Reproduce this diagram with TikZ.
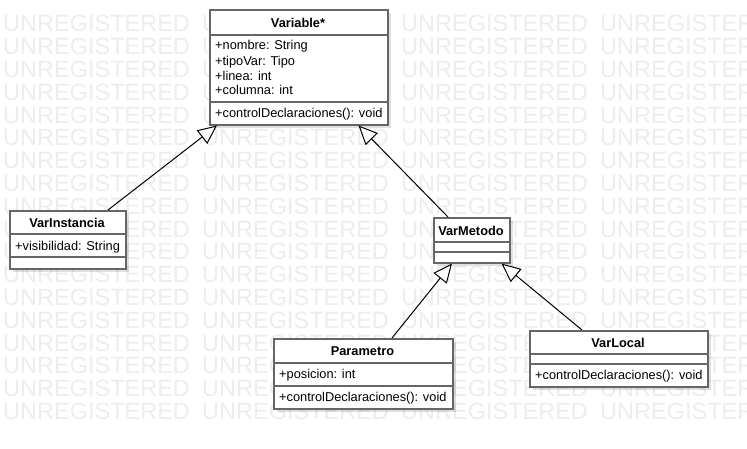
\documentclass[tikz,border=0pt]{standalone}
\usepackage{fontspec}
\setmainfont{Liberation Sans}
\usetikzlibrary{arrows.meta,shadows}
\definecolor{wmark}{RGB}{237,237,237}
\definecolor{frame}{RGB}{102,102,102}
\begin{document}
\begin{tikzpicture}[x=1pt,y=-1pt,
  classbox/.style={draw=frame, line width=1.5pt, fill=white, inner sep=0pt,
    anchor=north west,
    drop shadow={shadow xshift=3pt, shadow yshift=-3pt, opacity=0.12, fill=black}},
  sepline/.style={draw=frame, line width=1.5pt},
  ctitle/.style={anchor=base, inner sep=0pt, font=\fontsize{12.8}{15}\selectfont\bfseries},
  member/.style={anchor=base west, inner sep=0pt, font=\fontsize{12.8}{15}\selectfont},
  wmtext/.style={anchor=base west, inner sep=0pt, text=wmark, font=\fontsize{23.5}{26}\selectfont},
  inherit/.style={draw=black, line width=1pt,
    -{Triangle[fill=white, length=19pt, width=17pt]}}
]
\useasboundingbox (0,0) rectangle (747,448);
\fill[white] (0,0) rectangle (747,448);

% background watermark
\begin{scope}
  \clip (0,0) rectangle (747,448);
  \foreach \r in {0,...,17}
    \foreach \c in {0,...,3}
      \node[wmtext] (wm-\r-\c) at (3+199*\c, 31.8+22.8*\r) {UNREGISTERED};
\end{scope}

% class Variable
\node[classbox, minimum width=178pt, minimum height=115pt] (variable) at (209,9) {};
\draw[sepline] (209,35) -- (387,35);
\draw[sepline] (209,102) -- (387,102);
\node[ctitle] (variable-t) at (298,27.1) {Variable*};
\node[member] (variable-a1) at (215,49.6) {+nombre: String};
\node[member] (variable-a2) at (215,65.1) {+tipoVar: Tipo};
\node[member] (variable-a3) at (215,80.1) {+linea: int};
\node[member] (variable-a4) at (215,94.9) {+columna: int};
\node[member] (variable-m1) at (215,117.6) {+controlDeclaraciones(): void};

% class VarInstancia
\node[classbox, minimum width=116pt, minimum height=58pt] (vinst) at (9,210) {};
\draw[sepline] (9,234) -- (125,234);
\draw[sepline] (9,257) -- (125,257);
\node[ctitle] (vinst-t) at (67,227.6) {VarInstancia};
\node[member] (vinst-a1) at (15,250.1) {+visibilidad: String};

% class VarMetodo
\node[classbox, minimum width=76pt, minimum height=45pt] (vmet) at (433,217) {};
\draw[sepline] (433,242) -- (509,242);
\draw[sepline] (433,252) -- (509,252);
\node[ctitle] (vmet-t) at (471,235.1) {VarMetodo};

% class Parametro
\node[classbox, minimum width=179pt, minimum height=70pt] (param) at (273,338) {};
\draw[sepline] (273,363) -- (452,363);
\draw[sepline] (273,386) -- (452,386);
\node[ctitle] (param-t) at (362.5,355.6) {Parametro};
\node[member] (param-a1) at (279,378.6) {+posicion: int};
\node[member] (param-m1) at (279,401.6) {+controlDeclaraciones(): void};

% class VarLocal
\node[classbox, minimum width=178pt, minimum height=56pt] (vlocal) at (529,330) {};
\draw[sepline] (529,354) -- (707,354);
\draw[sepline] (529,364) -- (707,364);
\node[ctitle] (vlocal-t) at (618,347.1) {VarLocal};
\node[member] (vlocal-m1) at (535,379.6) {+controlDeclaraciones(): void};

% generalizations
\draw[inherit] ([xshift=99pt]vinst.north west) -- ([xshift=8pt]variable.south west);
\draw[inherit] ([xshift=15pt]vmet.north west) -- ([xshift=-30pt]variable.south east);
\draw[inherit] ([xshift=119pt]param.north west) -- ([xshift=19pt]vmet.south west);
\draw[inherit] ([xshift=53pt]vlocal.north west) -- ([xshift=-9pt]vmet.south east);
\end{tikzpicture}
\end{document}
